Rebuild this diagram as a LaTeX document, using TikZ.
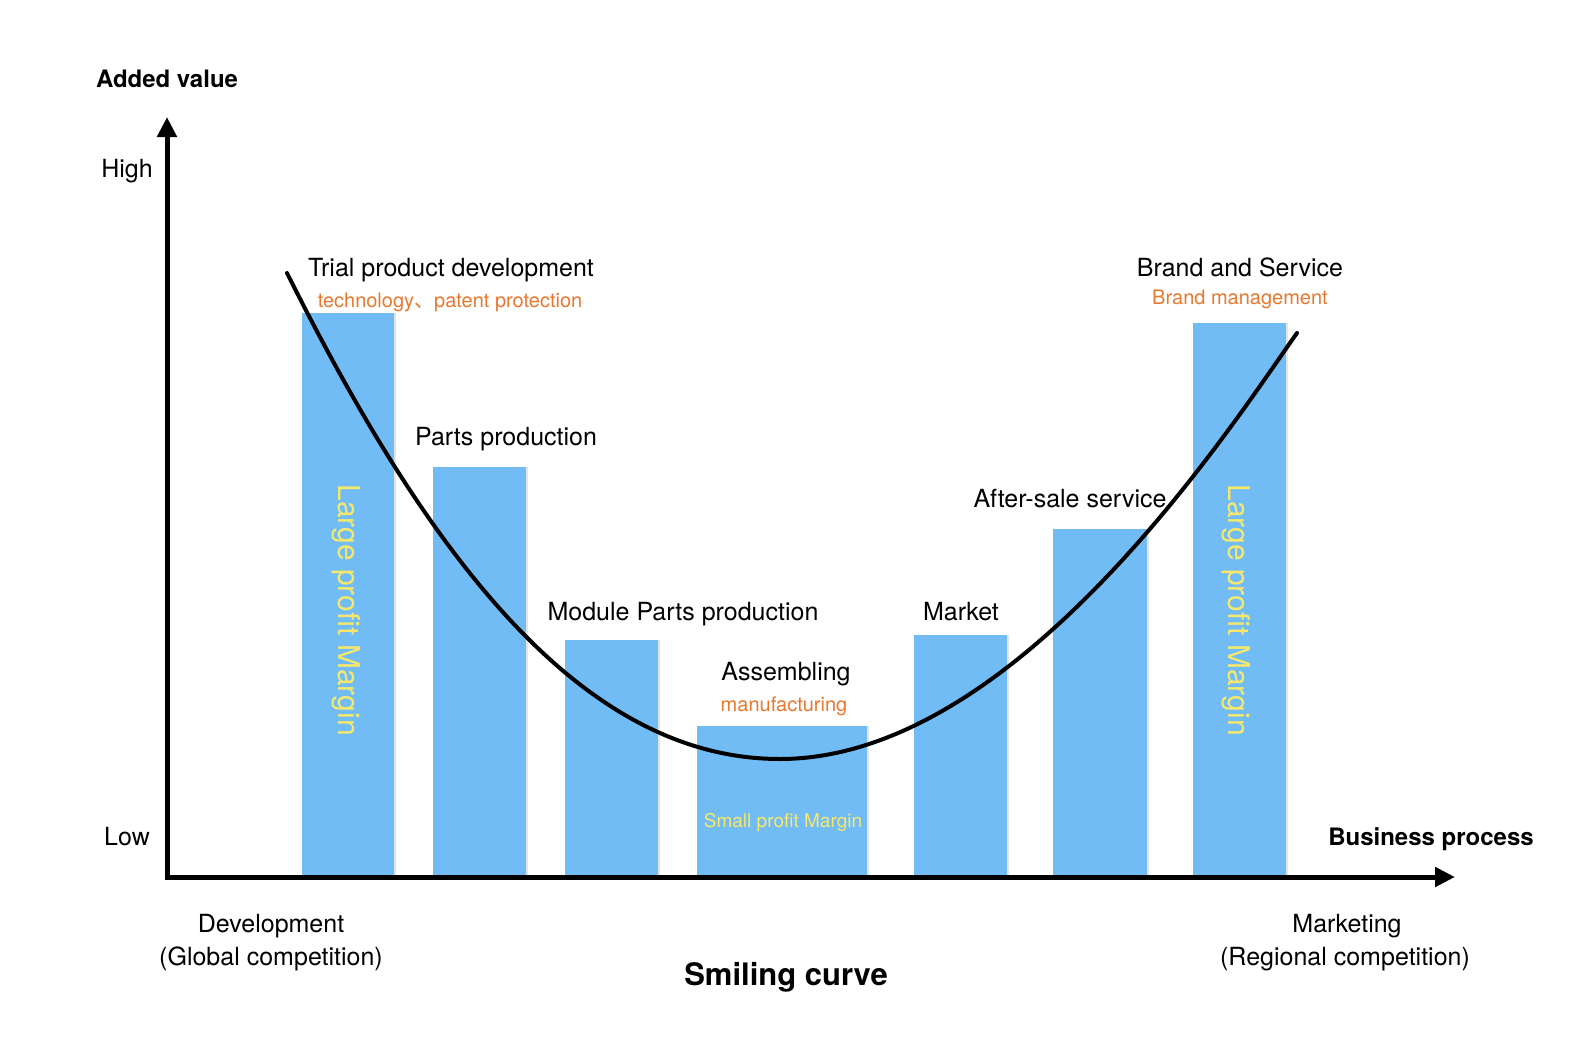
\documentclass[tikz,border=0pt]{standalone}
\usepackage{fontspec}
\setmainfont{TeX Gyre Heros}
\newfontfamily\cjkfont{Noto Sans CJK SC}
\usetikzlibrary{arrows.meta}
\definecolor{barblue}{HTML}{72BCF6}
\definecolor{txtorange}{HTML}{E8782F}
\definecolor{txtyellow}{HTML}{F7E86A}
\tikzset{
  barbox/.style={fill=barblue, draw=none, inner sep=0pt, anchor=north west},
  lbl/.style={anchor=base, inner sep=0pt, font=\fontsize{25}{30}\selectfont},
  sublbl/.style={anchor=base, inner sep=0pt, text=txtorange, font=\fontsize{20}{24}\selectfont},
  boldlbl/.style={anchor=base, inner sep=0pt, font=\fontsize{24}{29}\selectfont\bfseries},
  vmargin/.style={rotate=-90, inner sep=0pt, text=txtyellow, font=\fontsize{30}{36}\selectfont},
  axisline/.style={line width=5pt, line join=miter, {Triangle[length=20pt,width=19pt]}-{Triangle[length=20pt,width=19pt]}},
  curveline/.style={line width=4pt, line cap=round},
}
\begin{document}
\begin{tikzpicture}[x=1pt,y=-1pt]
\useasboundingbox[fill=white] (0,0) rectangle (1591,1049);
% bar shadows
\foreach \bx/\by/\bw in {302/313/92, 433/467/93, 565/640/93, 697/726/170, 914/635/93, 1053/529/94, 1193/323/93}{
  \fill[black, opacity=0.10] (\bx+1.5,\by-0.5) rectangle ++(\bw+0.5,877-\by);
}
% bars
\node[barbox, minimum width=92pt, minimum height=564pt] (b1) at (302,313) {};
\node[barbox, minimum width=93pt, minimum height=410pt] (b2) at (433,467) {};
\node[barbox, minimum width=93pt, minimum height=237pt] (b3) at (565,640) {};
\node[barbox, minimum width=170pt, minimum height=151pt] (b4) at (697,726) {};
\node[barbox, minimum width=93pt, minimum height=242pt] (b5) at (914,635) {};
\node[barbox, minimum width=94pt, minimum height=348pt] (b6) at (1053,529) {};
\node[barbox, minimum width=93pt, minimum height=554pt] (b7) at (1193,323) {};
% rotated margins
\node[vmargin] (m1) at (346,610) {Large profit Margin};
\node[vmargin] (m7) at (1236,610) {Large profit Margin};
\node[anchor=base, inner sep=0pt, text=txtyellow, font=\fontsize{19}{23}\selectfont] (m4) at (783,827) {Small profit Margin};
% axes
\coordinate (ytip) at (167,117);
\coordinate (O) at (167,877);
\coordinate (xtip) at (1455,877);
\draw[axisline] (ytip) -- (O) -- (xtip);
% smiling curve
\coordinate (cs) at (287,273);
\coordinate (cm) at (780,759);
\coordinate (ce) at (1297,333);
\draw[curveline] (cs) .. controls (427,553) and (580,759) .. (cm)
                      .. controls (1020,759) and (1237,417) .. (ce);
% labels
\node[boldlbl] (yl) at (167,88) {Added value};
\node[lbl] (hi) at (127,177) {High};
\node[lbl] (lo) at (127,845) {Low};
\node[boldlbl] (xl) at (1431,845) {Business process};
\node[lbl] (t1) at (451,276) {Trial product development};
\node[sublbl] (s1) at (450,307) {technology{\cjkfont 、}patent protection};
\node[lbl] (t2) at (506,445) {Parts production};
\node[lbl] (t3) at (683,620) {Module Parts production};
\node[lbl] (t4) at (786,680) {Assembling};
\node[sublbl] (s4) at (784,711) {manufacturing};
\node[lbl] (t5) at (961,620) {Market};
\node[lbl] (t6) at (1070,507) {After-sale service};
\node[lbl] (t7) at (1240,276) {Brand and Service};
\node[sublbl] (s7) at (1240,304) {Brand management};
\node[lbl] (d1) at (271,932) {Development};
\node[lbl] (d2) at (271,965) {(Global competition)};
\node[lbl] (k1) at (1347,932) {Marketing};
\node[lbl] (k2) at (1345,965) {(Regional competition)};
\node[anchor=base, inner sep=0pt, font=\fontsize{31}{37}\selectfont\bfseries] (title) at (786,985) {Smiling curve};
\end{tikzpicture}
\end{document}
